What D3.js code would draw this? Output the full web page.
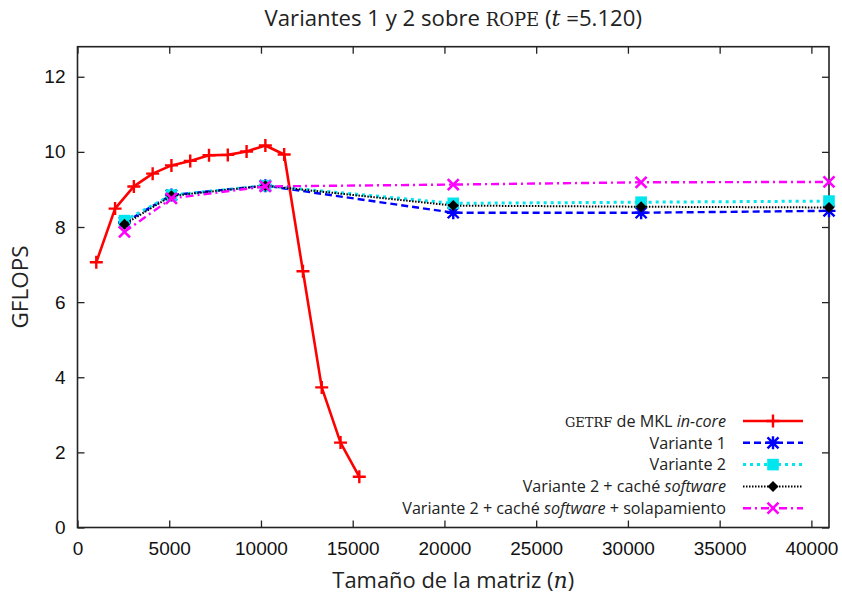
<!DOCTYPE html>
<html>
<head>
<meta charset="utf-8">
<script src="https://cdn.jsdelivr.net/npm/d3@7"></script>
<style>
  html, body { margin: 0; padding: 0; background: #fff; }
  svg { display: block; }
</style>
</head>
<body>
<svg id="chart" width="842" height="597"></svg>
<script>
// Matrix sizes (n) for each run
const nInCore = [1024, 2048, 3072, 4096, 5120, 6144, 7168, 8192, 9216, 10240, 11264, 12288, 13312, 14336, 15360];
const nVariants = [2560, 5120, 10240, 20480, 30720, 40960];

// GFLOPS per series
const gflopsInCore   = [7.06, 8.49, 9.08, 9.42, 9.64, 9.76, 9.91, 9.92, 10.01, 10.17, 9.93, 6.82, 3.73, 2.26, 1.35];
const gflopsVar1     = [8.12, 8.85, 9.10, 8.38, 8.38, 8.43];
const gflopsVar2     = [8.17, 8.85, 9.10, 8.63, 8.66, 8.69];
const gflopsVar2Sw   = [8.07, 8.83, 9.10, 8.57, 8.54, 8.52];
const gflopsVar2SwOv = [7.87, 8.76, 9.08, 9.13, 9.19, 9.20];

const xTicks = [0, 5000, 10000, 15000, 20000, 25000, 30000, 35000, 40000];
const yTicks = [0, 2, 4, 6, 8, 10, 12];

const series = [
  { n: nInCore,   v: gflopsInCore,   color: "#ff0000", dash: null,          width: 2.6, marker: "plus" },
  { n: nVariants, v: gflopsVar1,     color: "#0000ff", dash: "7,4",         width: 2.4, marker: "star" },
  { n: nVariants, v: gflopsVar2,     color: "#00e5ee", dash: "3,4",         width: 3.0, marker: "square" },
  { n: nVariants, v: gflopsVar2Sw,   color: "#000000", dash: "1.5,1.5",     width: 2.0, marker: "diamond" },
  { n: nVariants, v: gflopsVar2SwOv, color: "#ff00ff", dash: "8,4,2,4",     width: 2.4, marker: "cross" }
];

const svg = d3.select("#chart");
const L = 77.5, R = 829, T = 46.7, B = 527.5;

const x = d3.scaleLinear().domain([0, 40960]).range([L, R]);
const y = d3.scaleLinear().domain([0, 12.8]).range([B, T]);

const tickFont = "'Liberation Sans', Arial, sans-serif";
const textFont = "'Open Sans', Lato, sans-serif";
const serifFont = "'DejaVu Serif', 'Liberation Serif', serif";

// Scale a text element's font so that it spans the given width
function fitText(sel, width) {
  const fs = parseFloat(sel.attr("font-size"));
  const w = sel.node().getComputedTextLength();
  const k = width / w;
  sel.attr("font-size", fs * k);
  sel.selectAll("tspan").each(function () {
    const t = d3.select(this);
    const f = t.attr("font-size");
    if (f) t.attr("font-size", parseFloat(f) * k);
  });
  return fs * k;
}

// Axes with inward ticks
const gx = svg.append("g").attr("transform", `translate(0,${B})`)
  .call(d3.axisBottom(x).tickValues(xTicks).tickSize(-7).tickPadding(14).tickFormat(d3.format("d")));
const gy = svg.append("g").attr("transform", `translate(${L},0)`)
  .call(d3.axisLeft(y).tickValues(yTicks).tickSize(-7).tickPadding(12).tickFormat(d3.format("d")));
const gxt = svg.append("g").attr("transform", `translate(0,${T})`)
  .call(d3.axisTop(x).tickValues(xTicks).tickSize(-7).tickFormat(""));
const gyr = svg.append("g").attr("transform", `translate(${R},0)`)
  .call(d3.axisRight(y).tickValues(yTicks).tickSize(-7).tickFormat(""));

[gx, gy, gxt, gyr].forEach(g => {
  g.select(".domain").remove();
  g.selectAll(".tick line").attr("stroke", "#222").attr("stroke-width", 1.3);
  g.selectAll(".tick text").attr("font-family", tickFont).attr("font-size", 19).attr("fill", "#111");
});

// Frame
svg.append("rect").attr("x", L).attr("y", T).attr("width", R - L).attr("height", B - T)
  .attr("fill", "none").attr("stroke", "#222").attr("stroke-width", 1.6);

// Marker shapes
function drawMarker(g, type, cx, cy, color) {
  const s = 6.5;
  if (type === "plus") {
    g.append("path").attr("d", `M${cx - s},${cy}H${cx + s}M${cx},${cy - s}V${cy + s}`)
      .attr("stroke", color).attr("stroke-width", 2.4).attr("fill", "none");
  } else if (type === "cross") {
    const c = 5.5;
    g.append("path").attr("d", `M${cx - c},${cy - c}L${cx + c},${cy + c}M${cx - c},${cy + c}L${cx + c},${cy - c}`)
      .attr("stroke", color).attr("stroke-width", 2.6).attr("fill", "none");
  } else if (type === "star") {
    const c = 5.5;
    g.append("path").attr("d", `M${cx - c},${cy - c}L${cx + c},${cy + c}M${cx - c},${cy + c}L${cx + c},${cy - c}M${cx - s},${cy}H${cx + s}M${cx},${cy - s}V${cy + s}`)
      .attr("stroke", color).attr("stroke-width", 2.4).attr("fill", "none");
  } else if (type === "square") {
    const h = 5.8;
    g.append("rect").attr("x", cx - h).attr("y", cy - h).attr("width", 2 * h).attr("height", 2 * h).attr("fill", color);
  } else if (type === "diamond") {
    const h = 5.5;
    g.append("path").attr("d", `M${cx},${cy - h}L${cx + h},${cy}L${cx},${cy + h}L${cx - h},${cy}Z`).attr("fill", color);
  }
}

const line = d3.line().x(d => x(d[0])).y(d => y(d[1]));
const plot = svg.append("g");

series.forEach(s => {
  const pts = s.n.map((n, i) => [n, s.v[i]]);
  const g = plot.append("g");
  g.append("path").datum(pts).attr("d", line)
    .attr("fill", "none").attr("stroke", s.color).attr("stroke-width", s.width)
    .attr("stroke-dasharray", s.dash).attr("stroke-linejoin", "round");
  pts.forEach(p => drawMarker(g, s.marker, x(p[0]), y(p[1]), s.color));
});

// Legend
const legendRows = [
  [{ t: "getrf", sc: true }, { t: " de MKL " }, { t: "in-core", it: true }],
  [{ t: "Variante 1" }],
  [{ t: "Variante 2" }],
  [{ t: "Variante 2 + caché " }, { t: "software", it: true }],
  [{ t: "Variante 2 + caché " }, { t: "software", it: true }, { t: " + solapamiento" }]
];
const legY0 = 421, legDy = 21.8, legTextX = 726, legX1 = 743, legX2 = 803;
const scScale = 1.15;
const leg = svg.append("g");
const legTexts = [];
legendRows.forEach((parts, i) => {
  const yy = legY0 + i * legDy;
  const t = leg.append("text").attr("x", legTextX).attr("y", yy).attr("dy", "0.36em")
    .attr("text-anchor", "end").attr("font-family", textFont).attr("font-size", 15).attr("fill", "#222");
  parts.forEach(p => {
    const ts = t.append("tspan").text(p.t);
    if (p.it) ts.attr("font-style", "italic");
    if (p.sc) ts.attr("font-family", serifFont).attr("font-variant", "small-caps").attr("font-size", 15 * scScale);
  });
  legTexts.push(t);
  const s = series[i];
  leg.append("path").attr("d", `M${legX1},${yy}H${legX2}`)
    .attr("stroke", s.color).attr("stroke-width", s.width).attr("stroke-dasharray", s.dash).attr("fill", "none");
  drawMarker(leg, s.marker, (legX1 + legX2) / 2, yy, s.color);
});
// size all legend entries from the longest one
{
  const longest = legTexts[4];
  const k = 324 / longest.node().getComputedTextLength();
  legTexts.forEach(t => {
    t.attr("font-size", 15 * k);
    t.selectAll("tspan").filter(function () { return d3.select(this).attr("font-size"); })
      .attr("font-size", 15 * k * scScale);
  });
}

// Title
const title = svg.append("text").attr("x", (L + R) / 2).attr("y", 26).attr("text-anchor", "middle")
  .attr("font-family", textFont).attr("font-size", 19).attr("fill", "#222");
title.append("tspan").text("Variantes 1 y 2 sobre ");
title.append("tspan").text("rope").attr("font-family", serifFont).attr("font-variant", "small-caps").attr("font-size", 19 * scScale);
title.append("tspan").text(" (");
title.append("tspan").text("t").attr("font-family", serifFont).attr("font-style", "italic");
title.append("tspan").text(" =5.120)");
fitText(title, 376);

// Axis labels
const xl = svg.append("text").attr("x", (L + R) / 2).attr("y", 588).attr("text-anchor", "middle")
  .attr("font-family", textFont).attr("font-size", 19).attr("fill", "#222");
xl.append("tspan").text("Tamaño de la matriz (");
xl.append("tspan").text("n").attr("font-family", serifFont).attr("font-style", "italic");
xl.append("tspan").text(")");
fitText(xl, 242);

const yl = svg.append("text").attr("transform", "translate(28,287) rotate(-90)").attr("text-anchor", "middle")
  .attr("font-family", textFont).attr("font-size", 19).attr("fill", "#222").text("GFLOPS");
fitText(yl, 83);
</script>
</body>
</html>
